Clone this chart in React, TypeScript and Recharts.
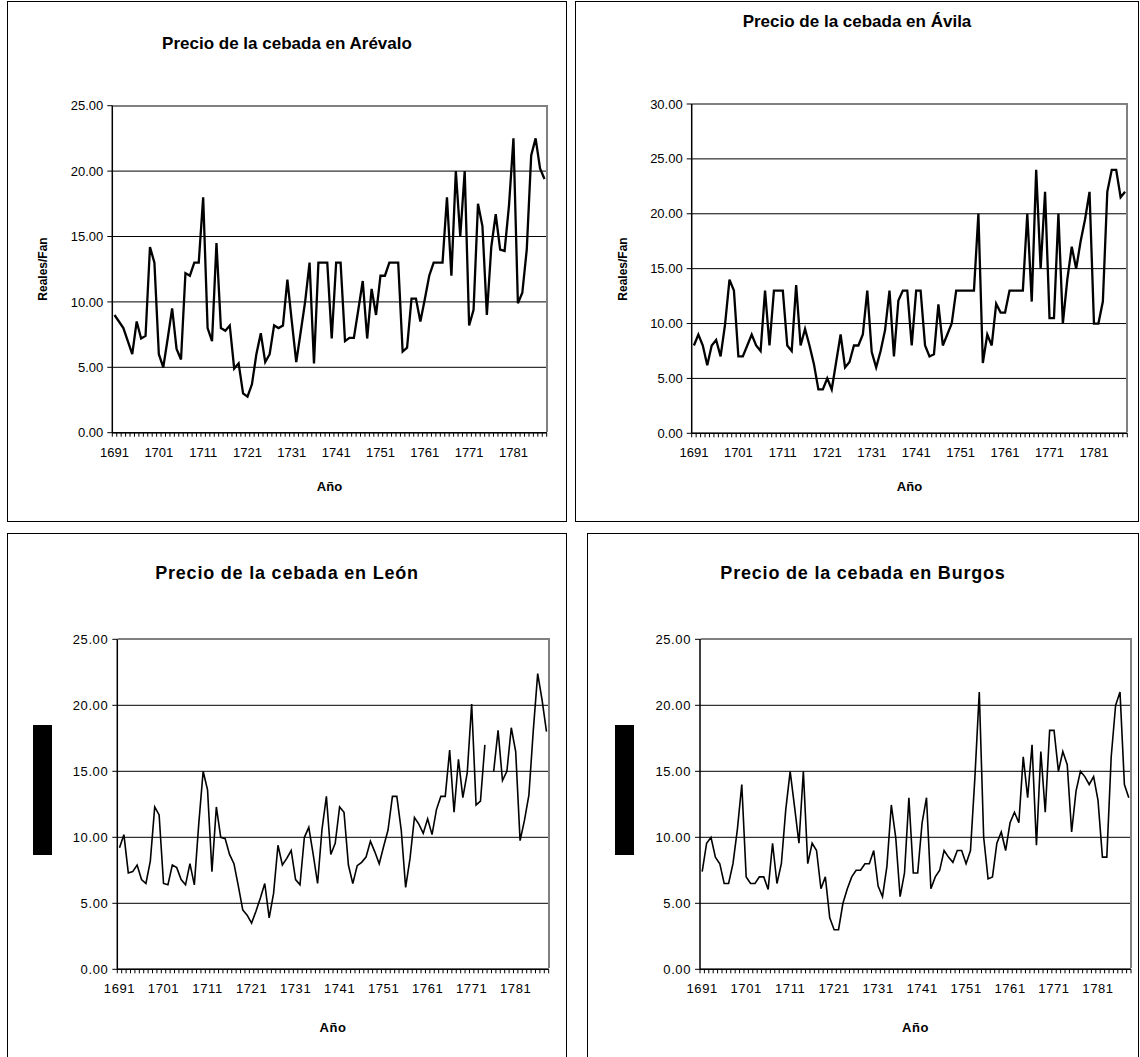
import React from "react";
import { LineChart, Line, XAxis, YAxis, CartesianGrid } from "recharts";

// Años 1691-1788, una categoría por año
const years = [
  1691, 1692, 1693, 1694, 1695, 1696, 1697, 1698, 1699, 1700,
  1701, 1702, 1703, 1704, 1705, 1706, 1707, 1708, 1709, 1710,
  1711, 1712, 1713, 1714, 1715, 1716, 1717, 1718, 1719, 1720,
  1721, 1722, 1723, 1724, 1725, 1726, 1727, 1728, 1729, 1730,
  1731, 1732, 1733, 1734, 1735, 1736, 1737, 1738, 1739, 1740,
  1741, 1742, 1743, 1744, 1745, 1746, 1747, 1748, 1749, 1750,
  1751, 1752, 1753, 1754, 1755, 1756, 1757, 1758, 1759, 1760,
  1761, 1762, 1763, 1764, 1765, 1766, 1767, 1768, 1769, 1770,
  1771, 1772, 1773, 1774, 1775, 1776, 1777, 1778, 1779, 1780,
  1781, 1782, 1783, 1784, 1785, 1786, 1787, 1788,
];

const xTickLabels = [1691, 1701, 1711, 1721, 1731, 1741, 1751, 1761, 1771, 1781];
const yTicks25 = [0, 5, 10, 15, 20, 25];
const yTicks30 = [0, 5, 10, 15, 20, 25, 30];

// Reales/Fan
const arevalo = [
  9.0, 8.5, 8.0, 7.0, 6.0, 8.5, 7.2, 7.4, 14.2, 13.0,
  6.0, 5.0, 7.2, 9.5, 6.4, 5.6, 12.2, 12.0, 13.0, 13.0,
  18.0, 8.0, 7.0, 14.5, 8.0, 7.8, 8.2, 4.9, 5.3, 3.0,
  2.75, 3.7, 6.0, 7.6, 5.4, 6.0, 8.2, 8.0, 8.2, 11.7,
  8.5, 5.4, 7.7, 10.0, 13.0, 5.3, 13.0, 13.0, 13.0, 7.2,
  13.0, 13.0, 7.0, 7.25, 7.25, 9.4, 11.6, 7.2, 11.0, 9.0,
  12.0, 12.0, 13.0, 13.0, 13.0, 6.2, 6.5, 10.25, 10.25, 8.5,
  10.2, 12.0, 13.0, 13.0, 13.0, 18.0, 12.0, 20.0, 15.0, 20.0,
  8.2, 9.4, 17.5, 15.8, 9.0, 14.2, 16.7, 14.0, 13.9, 17.4,
  22.5, 9.9, 10.7, 14.0, 21.2, 22.5, 20.2, 19.4,
];

const avila = [
  8.0, 9.0, 8.0, 6.2, 8.0, 8.5, 7.0, 9.9, 14.0, 13.0,
  7.0, 7.0, 8.0, 9.0, 8.0, 7.5, 13.0, 8.0, 13.0, 13.0,
  13.0, 8.0, 7.5, 13.5, 8.0, 9.5, 8.0, 6.3, 4.0, 4.0,
  5.0, 4.0, 6.5, 9.0, 6.0, 6.5, 8.0, 8.0, 9.0, 13.0,
  7.4, 6.0, 7.5, 9.4, 13.0, 7.0, 12.1, 13.0, 13.0, 8.0,
  13.0, 13.0, 8.0, 7.0, 7.2, 11.75, 8.0, 9.0, 10.0, 13.0,
  13.0, 13.0, 13.0, 13.0, 20.0, 6.4, 9.0, 8.0, 11.8, 11.0,
  11.0, 13.0, 13.0, 13.0, 13.0, 20.0, 12.0, 24.0, 15.0, 22.0,
  10.5, 10.5, 20.0, 10.0, 14.0, 17.0, 15.0, 17.5, 19.5, 22.0,
  10.0, 10.0, 12.0, 22.0, 24.0, 24.0, 21.5, 22.0,
];

const leon = [
  9.2, 10.2, 7.3, 7.4, 7.9, 6.8, 6.5, 8.2, 12.3, 11.7,
  6.5, 6.4, 7.9, 7.7, 6.8, 6.4, 8.0, 6.4, 11.0, 15.0,
  13.6, 7.4, 12.3, 10.0, 9.9, 8.7, 8.0, 6.3, 4.5, 4.1,
  3.5, 4.4, 5.4, 6.5, 3.9, 5.75, 9.4, 7.9, 8.4, 9.0,
  6.8, 6.4, 10.0, 10.75, 8.7, 6.5, 10.6, 13.1, 8.7, 9.55,
  12.3, 11.9, 7.9, 6.5, 7.85, 8.1, 8.5, 9.7, 8.9, 8.0,
  9.3, 10.55, 13.1, 13.1, 10.55, 6.2, 8.4, 11.5, 11.0, 10.3,
  11.4, 10.2, 12.1, 13.1, 13.1, 16.6, 11.9, 15.9, 13.0, 14.9,
  20.1, 12.45, 12.75, 17.0, null, 15.0, 18.1, 14.3, 15.0, 18.3,
  16.5, 9.75, 11.3, 13.2, 18.1, 22.4, 20.4, 18.0,
];

const burgos = [
  7.4, 9.55, 10.0, 8.5, 8.0, 6.5, 6.5, 8.0, 10.6, 14.0,
  7.0, 6.5, 6.5, 7.0, 7.0, 6.05, 9.55, 6.5, 8.0, 12.1,
  15.0, 12.3, 9.55, 15.0, 8.0, 9.55, 9.0, 6.1, 7.0, 3.9,
  3.0, 3.0, 5.0, 6.1, 7.0, 7.5, 7.5, 8.0, 8.0, 9.0,
  6.3, 5.5, 7.8, 12.45, 10.0, 5.5, 7.3, 13.0, 7.3, 7.3,
  11.1, 13.0, 6.1, 7.0, 7.5, 9.0, 8.5, 8.1, 9.0, 9.0,
  8.0, 9.0, 14.5, 21.0, 10.0, 6.85, 7.0, 9.55, 10.4, 9.0,
  11.1, 11.9, 11.1, 16.1, 13.0, 17.0, 9.4, 16.5, 11.9, 18.1,
  18.1, 15.0, 16.5, 15.5, 10.4, 13.5, 15.0, 14.6, 14.0, 14.6,
  12.8, 8.5, 8.5, 16.1, 20.0, 21.0, 14.0, 13.0,
];

const FONT = "Arial, 'Liberation Sans', Helvetica, sans-serif";
const YW = 50; // ancho del eje Y
const XH = 40; // alto del eje X

type Box = { left: number; top: number; width: number; height: number };
type Plot = { left: number; top: number; right: number; bottom: number };

interface PanelProps {
  title: string;
  values: (number | null)[];
  yTicks: number[];
  frame: Box;
  plot: Plot;
  titleY: number;
  titleSize: number;
  lineWidth: number;
  labelGap: number;
  axisTitleY: number;
  yLabel: "text" | "box";
  yLabelX: number;
  spacing?: number;
  titleSpacing?: number;
}

const makeXTick = (step: number, gap: number, spacing: number) => (props: any) => {
  const { x, y, payload, index } = props;
  const yr = Number(payload.value);
  const left = x - step / 2;
  return (
    <g>
      <line x1={left} x2={left} y1={y} y2={y + 4} stroke="#000" strokeWidth={1} />
      {index === years.length - 1 && (
        <line x1={x + step / 2} x2={x + step / 2} y1={y} y2={y + 4} stroke="#000" strokeWidth={1} />
      )}
      {xTickLabels.includes(yr) && (
        <text x={x} y={y + gap} textAnchor="middle" fontSize={13} fontFamily={FONT} fill="#000" letterSpacing={spacing}>
          {yr}
        </text>
      )}
    </g>
  );
};

const Panel = ({
  title, values, yTicks, frame, plot, titleY, titleSize, lineWidth,
  labelGap, axisTitleY, yLabel, yLabelX, spacing = 0, titleSpacing = 0,
}: PanelProps) => {
  const data = years.map((year, i) => ({ year, v: values[i] }));
  const plotW = plot.right - plot.left;
  const step = plotW / years.length;
  const margin = {
    left: plot.left - frame.left - YW,
    top: plot.top - frame.top,
    right: frame.left + frame.width - plot.right,
    bottom: frame.top + frame.height - plot.bottom - XH,
  };
  const midY = (plot.top + plot.bottom) / 2;
  const midX = (plot.left + plot.right) / 2;

  return (
    <>
      <div
        style={{
          position: "absolute", left: frame.left, top: frame.top,
          width: frame.width, height: frame.height,
          border: "1px solid #000", boxSizing: "border-box", background: "#fff",
        }}
      />
      <div style={{ position: "absolute", left: frame.left, top: frame.top }}>
        <LineChart width={frame.width} height={frame.height} data={data} margin={margin}>
          <CartesianGrid vertical={false} stroke="#000" strokeWidth={1} />
          <XAxis
            dataKey="year"
            type="category"
            interval={0}
            height={XH}
            tickSize={0}
            tickMargin={0}
            tickLine={false}
            padding={{ left: step / 2, right: step / 2 }}
            axisLine={{ stroke: "#000", strokeWidth: 1.5 }}
            tick={makeXTick(step, labelGap, spacing)}
          />
          <YAxis
            type="number"
            domain={[0, yTicks[yTicks.length - 1]]}
            ticks={yTicks}
            interval={0}
            width={YW}
            tickSize={5}
            tickMargin={4}
            tickFormatter={(v: number) => v.toFixed(2)}
            tick={{ fontSize: 13, fill: "#000", fontFamily: FONT, letterSpacing: spacing }}
            tickLine={{ stroke: "#000" }}
            axisLine={{ stroke: "#000", strokeWidth: 1.5 }}
          />
          <Line
            type="linear"
            dataKey="v"
            stroke="#000"
            strokeWidth={lineWidth}
            dot={false}
            connectNulls={false}
            isAnimationActive={false}
          />
        </LineChart>
      </div>
      {/* borde gris del área de trazado (arriba y derecha) */}
      <div
        style={{
          position: "absolute", left: plot.left + 1, top: plot.top - 1,
          width: plotW, height: plot.bottom - plot.top,
          borderTop: "2px solid #808080", borderRight: "2px solid #808080",
          boxSizing: "border-box", pointerEvents: "none",
        }}
      />
      <div
        style={{
          position: "absolute", left: frame.left, width: frame.width, top: titleY,
          transform: "translateY(-50%)", textAlign: "center", fontFamily: FONT,
          fontWeight: "bold", fontSize: titleSize, letterSpacing: titleSpacing, whiteSpace: "nowrap",
        }}
      >
        {title}
      </div>
      <div
        style={{
          position: "absolute", left: midX, top: axisTitleY,
          transform: "translate(-50%, -50%)", fontFamily: FONT,
          fontWeight: "bold", fontSize: 13, letterSpacing: spacing,
        }}
      >
        Año
      </div>
      {yLabel === "text" ? (
        <div
          style={{
            position: "absolute", left: yLabelX, top: midY,
            transform: "translate(-50%, -50%) rotate(-90deg)", fontFamily: FONT,
            fontWeight: "bold", fontSize: 12, whiteSpace: "nowrap",
          }}
        >
          Reales/Fan
        </div>
      ) : (
        <div
          style={{
            position: "absolute", left: yLabelX - 9.5, top: 725,
            width: 19, height: 130, background: "#000",
          }}
        />
      )}
    </>
  );
};

export default function App() {
  return (
    <div
      style={{
        position: "absolute", left: 0, top: 0, width: 1140, height: 1057,
        overflow: "hidden", background: "#fff",
      }}
    >
      <Panel
        title="Precio de la cebada en Arévalo"
        values={arevalo}
        yTicks={yTicks25}
        frame={{ left: 7, top: 1, width: 560, height: 521 }}
        plot={{ left: 112.3, top: 105.7, right: 546.7, bottom: 432.7 }}
        titleY={44}
        titleSize={17}
        lineWidth={2.3}
        labelGap={24}
        axisTitleY={486}
        yLabel="text"
        yLabelX={43}
      />
      <Panel
        title="Precio de la cebada en Ávila"
        values={avila}
        yTicks={yTicks30}
        frame={{ left: 575, top: 1, width: 564, height: 521 }}
        plot={{ left: 691.7, top: 104, right: 1127.3, bottom: 433.3 }}
        titleY={22}
        titleSize={17}
        lineWidth={2.3}
        labelGap={24}
        axisTitleY={486}
        yLabel="text"
        yLabelX={623}
      />
      <Panel
        title="Precio de la cebada en León"
        values={leon}
        yTicks={yTicks25}
        frame={{ left: 7, top: 533, width: 560, height: 540 }}
        plot={{ left: 117.3, top: 639.3, right: 548.7, bottom: 969.3 }}
        titleY={573}
        titleSize={18}
        lineWidth={1.6}
        labelGap={24}
        axisTitleY={1027}
        yLabel="box"
        yLabelX={42.5}
        spacing={0.6}
        titleSpacing={0.8}
      />
      <Panel
        title="Precio de la cebada en Burgos"
        values={burgos}
        yTicks={yTicks25}
        frame={{ left: 587, top: 533, width: 552, height: 540 }}
        plot={{ left: 700, top: 639.3, right: 1131, bottom: 969.3 }}
        titleY={573}
        titleSize={18}
        lineWidth={1.6}
        labelGap={24}
        axisTitleY={1027}
        yLabel="box"
        yLabelX={624.5}
        spacing={0.6}
        titleSpacing={0.8}
      />
    </div>
  );
}
